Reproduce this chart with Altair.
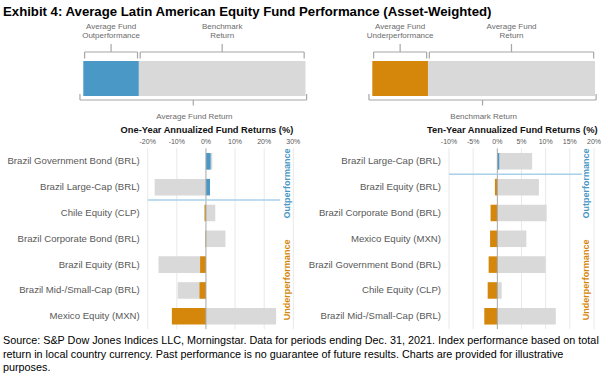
import altair as alt
import pandas as pd

# ---------------- data ----------------
TITLE = "Exhibit 4: Average Latin American Equity Fund Performance (Asset-Weighted)"

title_1y = "One-Year Annualized Fund Returns (%)"
cats_1y = ["Brazil Government Bond (BRL)", "Brazil Large-Cap (BRL)", "Chile Equity (CLP)",
           "Brazil Corporate Bond (BRL)", "Brazil Equity (BRL)", "Brazil Mid-/Small-Cap (BRL)",
           "Mexico Equity (MXN)"]
bench_1y = [2.2, -17.6, 3.2, 6.7, -16.3, -9.7, 24.1]
diff_1y = [1.6, 1.4, -0.5, -0.2, -2.0, -2.2, -11.7]
ticks_1y = [-20, -10, 0, 10, 20, 30]

title_10y = "Ten-Year Annualized Fund Returns (%)"
cats_10y = ["Brazil Large-Cap (BRL)", "Brazil Equity (BRL)", "Brazil Corporate Bond (BRL)",
            "Mexico Equity (MXN)", "Brazil Government Bond (BRL)", "Chile Equity (CLP)",
            "Brazil Mid-/Small-Cap (BRL)"]
bench_10y = [7.2, 8.6, 10.2, 6.0, 10.0, 0.9, 12.1]
diff_10y = [0.4, -0.5, -1.4, -1.5, -1.8, -2.0, -2.7]
ticks_10y = [-10, -5, 0, 5, 10, 15, 20]

group_labels = ["Outperformance", "Underperformance"]

legend_1y_widths = [25, 75]
legend_1y_top = ["Average Fund\nOutperformance", "Benchmark\nReturn"]
legend_1y_bottom = "Average Fund Return"
legend_10y_widths = [25, 75]
legend_10y_top = ["Average Fund\nUnderperformance", "Average Fund\nReturn"]
legend_10y_bottom = "Benchmark Return"

SOURCE = ("Source: S&P Dow Jones Indices LLC, Morningstar. Data for periods ending Dec. 31, 2021. Index performance based on total\n"
          "return in local country currency. Past performance is no guarantee of future results. Charts are provided for illustrative\n"
          "purposes.")

# ---------------- style ----------------
FONT = "Liberation Sans"
BLUE = "#4A98C5"
ORANGE = "#D4870A"
GRAY = "#D9D9D9"
GRID = "#E8E8E8"
ZERO = "#A6A6A6"
DIVIDER = "#A8D0EA"
LABEL = "#595959"
BRACE = "#A6A6A6"

PAD_TOP = 22
W, H = 608, 376 - PAD_TOP
BAR_H = 0.64


def py(v):
    return v - PAD_TOP


ROW_SCALE = alt.Scale(domain=[0, 7], range=[py(148.4), py(329.2)], nice=False, zero=False)


def enc_x(field, scale):
    return alt.X(field, type="quantitative", scale=scale, axis=None)


def enc_y(field, scale=ROW_SCALE):
    return alt.Y(field, type="quantitative", scale=scale, axis=None)


def panel(cats, bench, diff, ticks, xrange, divider_after, divider_end, title, title_dx, vlabel_dx):
    xs = alt.Scale(domain=[ticks[0], ticks[-1]], range=xrange, nice=False, zero=False)
    n = len(cats)
    df = pd.DataFrame({"category": cats, "benchmark": bench, "diff": diff, "idx": list(range(n))})
    df["zero"] = 0.0
    df["top"] = df["idx"] + 0.5 - BAR_H / 2
    df["bottom"] = df["idx"] + 0.5 + BAR_H / 2
    df["mid"] = df["idx"] + 0.5
    df["xmin"] = float(ticks[0])
    df["color"] = [BLUE if d > 0 else ORANGE for d in diff]

    tdf = pd.DataFrame({"tick": ticks, "label": [f"{t}%" for t in ticks]})
    tdf["y0"] = 0.0
    tdf["y1"] = float(n)
    grid_df = tdf[tdf["tick"] != 0]
    zero_df = tdf[tdf["tick"] == 0]

    layers = []
    layers.append(alt.Chart(grid_df).mark_rule(color=GRID, strokeWidth=1).encode(
        x=enc_x("tick", xs), y=enc_y("y0"), y2="y1"))
    layers.append(alt.Chart(tdf).mark_text(font=FONT, fontSize=7, color=LABEL, baseline="alphabetic", dy=-4).encode(
        x=enc_x("tick", xs), y=enc_y("y0"), text="label:N"))
    layers.append(alt.Chart(pd.DataFrame({"t": [title], "x": [float(ticks[-1])], "y": [0.0]})).mark_text(
        font=FONT, fontSize=9.3, fontWeight="bold", color="#111111", align="right", baseline="alphabetic",
        dx=title_dx, dy=-15).encode(x=enc_x("x", xs), y=enc_y("y"), text="t:N"))
    layers.append(alt.Chart(df).mark_bar(color=GRAY).encode(
        x=enc_x("zero", xs), x2="benchmark", y=enc_y("top"), y2="bottom"))
    layers.append(alt.Chart(df).mark_bar().encode(
        x=enc_x("zero", xs), x2="diff", y=enc_y("top"), y2="bottom",
        color=alt.Color("color:N", scale=None)))
    layers.append(alt.Chart(zero_df).mark_rule(color=ZERO, strokeWidth=1).encode(
        x=enc_x("tick", xs), y=enc_y("y0"), y2="y1"))
    layers.append(alt.Chart(df).mark_text(font=FONT, fontSize=9.6, color=LABEL, align="right",
                                          baseline="middle", dx=-8).encode(
        x=enc_x("xmin", xs), y=enc_y("mid"), text="category:N"))
    layers.append(alt.Chart(pd.DataFrame({"x0": [float(ticks[0])], "x1": [divider_end], "y": [float(divider_after)]}))
                  .mark_rule(color=DIVIDER, strokeWidth=1.6).encode(
        x=enc_x("x0", xs), x2="x1", y=enc_y("y")))
    vdf = pd.DataFrame({"t": group_labels, "x": [float(ticks[-1])] * 2, "y": [1.36, 5.09], "color": [BLUE, ORANGE]})
    layers.append(alt.Chart(vdf).mark_text(font=FONT, fontSize=9, fontWeight="bold", angle=270, align="center",
                                           baseline="middle", xOffset=vlabel_dx).encode(
        x=enc_x("x", xs), y=enc_y("y"), text="t:N", color=alt.Color("color:N", scale=None)))
    return layers


def legend(widths, colors, top_labels, bottom_label, xrange):
    lx = alt.Scale(domain=[0, 100], range=xrange, nice=False, zero=False)
    ly = alt.Scale(domain=[0, 35], range=[py(61), py(96)], nice=False, zero=False)
    starts, s = [], 0
    for w in widths:
        starts.append(s)
        s += w
    ends = [a + w for a, w in zip(starts, widths)]
    seg = pd.DataFrame({"start": starts, "end": ends, "color": colors, "label": top_labels})
    seg["y0"] = 0.0
    seg["y1"] = 35.0
    seg["mid"] = (seg["start"] + seg["end"]) / 2
    seg["ly"] = -32.0

    # brace segments (x, x2, y, y2) in legend units
    rows = []
    for a, b in zip(starts, ends):
        a2, b2 = a + 0.6, b - 0.6
        m = (a2 + b2) / 2
        rows += [(a2, b2, -9, -9), (a2, a2, -9, -2.5), (b2, b2, -9, -2.5), (m, m, -9, -17)]
    a2, b2 = -1.5, 100.5
    m = (a2 + b2) / 2
    rows += [(a2, b2, 39, 39), (a2, a2, 39, 33), (b2, b2, 39, 33), (m, m, 39, 44.5)]
    br = pd.DataFrame(rows, columns=["x", "x2", "y", "y2"])

    bl = pd.DataFrame({"t": [bottom_label], "x": [50.0], "y": [57.5]})

    layers = [
        alt.Chart(seg).mark_bar().encode(x=enc_x("start", lx), x2="end", y=enc_y("y0", ly), y2="y1",
                                         color=alt.Color("color:N", scale=None)),
        alt.Chart(br).mark_rule(color=BRACE, strokeWidth=1.2).encode(
            x=enc_x("x", lx), x2="x2", y=enc_y("y", ly), y2="y2"),
        alt.Chart(seg).mark_text(font=FONT, fontSize=8, color="#6B6B6B", align="center", baseline="alphabetic",
                                 lineBreak="\n", lineHeight=9.3).encode(
            x=enc_x("mid", lx), y=enc_y("ly", ly), text="label:N"),
        alt.Chart(bl).mark_text(font=FONT, fontSize=8, color="#6B6B6B", align="center", baseline="alphabetic").encode(
            x=enc_x("x", lx), y=enc_y("y", ly), text="t:N"),
    ]
    return layers


layers = []
layers += legend(legend_1y_widths, [BLUE, GRAY], legend_1y_top, legend_1y_bottom, [83.3, 305.5])
layers += legend(legend_10y_widths, [ORANGE, GRAY], legend_10y_top, legend_10y_bottom, [372.3, 595.0])
layers += panel(cats_1y, bench_1y, diff_1y, ticks_1y, [147.7, 293.3], 2, 25.5, title_1y, 0, -6)
layers += panel(cats_10y, bench_10y, diff_10y, ticks_10y, [449.0, 594.0], 1, 17.5, title_10y, 3.5, -7.7)

layers.append(alt.Chart(pd.DataFrame({"t": [SOURCE]})).mark_text(
    font=FONT, fontSize=10.8, color="#000000", align="left", baseline="alphabetic",
    lineBreak="\n", lineHeight=13.5).encode(x=alt.value(3), y=alt.value(py(344)), text="t:N"))

chart = alt.layer(*layers).resolve_scale(x="independent", y="independent").properties(
    width=W, height=H,
    padding={"left": 0, "top": PAD_TOP, "right": 0, "bottom": 0},
    autosize=alt.AutoSizeParams(type="none"),
    title=alt.TitleParams(TITLE, anchor="start", frame="group", fontSize=13.2, fontWeight="bold",
                          font=FONT, color="#000000", offset=3, dx=3),
).configure_view(stroke=None)

chart.save("out.html", embed_options={"renderer": "svg", "actions": False})
